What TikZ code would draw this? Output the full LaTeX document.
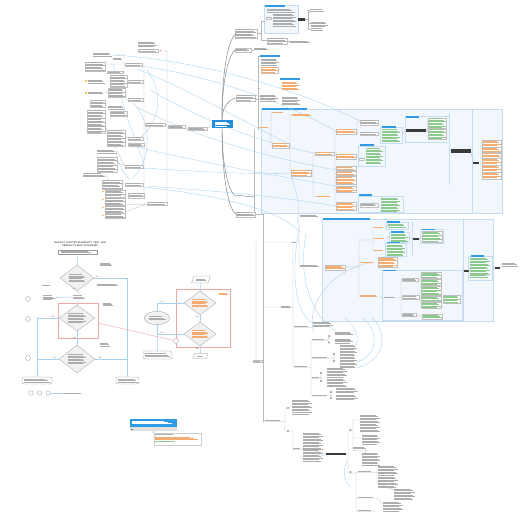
\documentclass[tikz,border=0pt]{standalone}
\usetikzlibrary{shapes.geometric,arrows.meta}
\definecolor{tg}{HTML}{ADADAD}
\definecolor{tor}{HTML}{F5AC70}
\definecolor{tgr}{HTML}{8CC98C}
\definecolor{hb}{HTML}{2E9BE3}
\definecolor{rootb}{HTML}{1F8FDB}
\definecolor{pf}{HTML}{F2F7FD}
\definecolor{pb}{HTML}{C6DCF1}
\definecolor{lg}{HTML}{B8B8B8}
\definecolor{lb}{HTML}{A6D2F0}
\definecolor{dk}{HTML}{3A3A3A}
\definecolor{rd}{HTML}{F2A7A7}
\definecolor{dg}{HTML}{F1F1F1}
\definecolor{ylw}{HTML}{F2C94C}
\newcommand\tb[5]{\foreach \tbi in {1,...,#4}{\pgfmathsetmacro\tbw{(#3)*(1-0.09*mod(\tbi*5,3))}\fill[#5] ({#1},{#2+(\tbi-1)*1.45}) rectangle ++(\tbw,0.45);}}
\newcommand\tbx[5]{\draw[draw=black!25,fill=white,line width=0.25] ({#1-0.8},{#2-0.8}) rectangle ({#1+#3+0.8},{#2+(#4-1)*1.45+1.3});\tb{#1}{#2}{#3}{#4}{#5}}
\newcommand\tbc[5]{\tb{#1-(#3)/2}{#2-(#4-1)*0.725-0.25}{#3}{#4}{#5}}
\begin{document}
\begin{tikzpicture}[x=1pt,y=-1pt,
 conn/.style={draw=lg,line width=0.3},
 link/.style={draw=lb,line width=0.35},
 spine/.style={draw=black!50,line width=0.45},
 panel/.style={fill=pf,draw=pb,line width=0.4},
 fl/.style={draw=lb,line width=0.5,-{Stealth[length=1.4pt,width=1.4pt]}},
 fdiam/.style={diamond,draw=black!35,fill=dg,line width=0.3,minimum width=34pt,minimum height=26pt,inner sep=0pt,aspect=1.3},
 fbox/.style={draw=black!40,fill=white,line width=0.3,inner sep=0pt},
 fround/.style={fbox,rounded corners=2pt},
 fcirc/.style={circle,draw=black!40,fill=white,line width=0.3,minimum size=5pt,inner sep=0pt},
 redbox/.style={draw=rd,line width=0.5,inner sep=0pt},
 lab/.style={font=\fontsize{1.6}{1.8}\selectfont\sffamily,text=black!70,inner sep=0.3pt},
 ico/.style={circle,draw=black!45,fill=white,line width=0.25,minimum size=1.8pt,inner sep=0pt}]
\useasboundingbox (0,0) rectangle (526,526);
\fill[white] (0,0) rectangle (526,526);
% ---------------- panels
\draw[panel] (264,5) rectangle (298,33);
\draw[panel] (261,109) rectangle (502,213);
\draw[panel] (405,116) rectangle (449,142);
\draw[panel] (380,127) rectangle (402,143);
\draw[panel] (358,146) rectangle (385,166);
\draw[panel] (358,196) rectangle (403,212.5);
\draw[pb,line width=0.4] (449,113)--(449,185) (472,109)--(472,213);
\draw[panel] (322,219) rectangle (493,321);
\draw[panel] (382,270) rectangle (462,320);
\draw[panel] (468,256) rectangle (492,280);
\draw[panel] (386,222) rectangle (408,229);
\draw[panel] (389,232) rectangle (409,242.5);
\draw[panel] (385,243.5) rectangle (406,256.5);
\draw[panel] (420,229) rectangle (443,243);
\draw[pb,line width=0.4] (412,222)--(412,256) (463,219)--(463,321);
% headers
\foreach \a/\b/\c/\d in {265/5.5/285/7.3, 260/55/280/57, 280/78/300/80, 262/107.8/307/109.6, 406/116.5/419/118.2, 382/126.5/396/128.2, 360/144.5/374/146.2, 359/194.5/372/196.2, 323/218.4/370/220.2, 387/221.2/400/222.8, 391/231.2/404/232.8, 387/241.8/400/243.4, 422/228.5/435/230.2, 383/269.6/396/271.3, 471/254.8/484/256.5}
  \fill[hb] (\a,\b) rectangle (\c,\d);
% dark boxes
\foreach \a/\b/\c/\d in {298/18/305/21, 406/129/426/132, 451/149/471/153, 473/162/479/164.3, 413/238/419/240.3, 464/270/468.5/272.3, 495/266.5/500/268.8, 326/452.5/346/454.5}
  \fill[dk] (\a,\b) rectangle (\c,\d);
% ---------------- tree lines
\draw[conn] (257,33.5)--(261,33.5) (261,21)--(261,40) (261,21)--(265,21) (261,40)--(266.7,40)
 (288,41)--(290,41) (305,19.5)--(308,19.5) (308,10)--(308,29) (308,10)--(310,10) (308,23)--(311,23) (308,29)--(311,29)
 (251,50)--(253.5,50) (256,99)--(258,99) (258,56)--(258,130) (258,56)--(260,56) (258,88)--(260,88) (258,128)--(259,128)
 (254,130)--(254,212) (244,196)--(254,196) (256.3,214.5)--(263,214.5) (263,214.5)--(263,421.5);
\draw[conn] (270,128)--(271,128) (271,112.5)--(271,145) (271,112.5)--(272,112.5) (271,145)--(271.7,145)
 (289,145)--(290,145) (290,114.5)--(290,173) (290,114.5)--(291.5,114.5) (290,173)--(290.7,173)
 (311,173)--(313,173) (313,154)--(313,196.5) (313,154)--(314.7,154) (313,196.5)--(315.5,196.5)
 (334,155)--(335,155) (335,131)--(335,205.5) \foreach \yy in {131,156,168.5,173.5,180,189,206} {(335,\yy)--(335.7,\yy)}
 (356,132)--(357,132) (357,122)--(357,134) (357,122)--(359.7,122) (357,134)--(359.7,134)
 (378,134)--(380,134) (402,134)--(405,131) (426,130.5)--(427.5,130.5) (427.5,121)--(427.5,133)
 (449,151)--(451,151) (471,151)--(473,163) (479,163)--(481,163) (481,142)--(481,176)
 (356,156)--(358,156) (356,205)--(358,205);
\draw[conn] (263,242)--(299,242) (299,216)--(299,267) (299,216)--(300,216) (299,267)--(300,267)
 (322,267)--(324.7,267) (345,267)--(359,267) (359,240)--(359,297) (359,240)--(373,240) (373,227.5)--(373,251)
 (373,227.5)--(374,227.5) (373,251)--(374,251) (359,262.5)--(360,262.5) (359,297)--(360,297)
 (377,262.5)--(377.7,262.5) (385,227.5)--(388,225) (386,238.5)--(391,236) (385,250.5)--(387,248)
 (408,237)--(413,239) (419,239)--(421.7,236)
 (379,297)--(383,297.5) (398,297.5)--(401,297.5) (401,279.5)--(401,315) (401,279.5)--(401.7,279.5) (401,315)--(401.7,315)
 (418,280)--(420,280) (420,274)--(420,304) (419,297)--(420,297) (435,299)--(442.7,299) (416,315)--(421.7,316)
 (462,271)--(464,271) (468.5,271)--(470,268) (492,267.5)--(495,267.5) (500,267.5)--(502,265);
\draw[conn] (256,242)--(256,360) (263,307)--(281,307) (292,307)--(293,307) (293,242)--(293,367.5)
 (294,327.5)--(312,327.5) (294,367.5)--(311,367.5) (311,340.5)--(311,396)
 (311,340.5)--(327,340.5) (311,358.5)--(330,358.5) (311,378.5)--(320,378.5) (311,396)--(330,396)
 (327,340.5)--(329,338) (329,336)--(329,342.5) (330,358.5)--(334,357.5) (334,354)--(334,361)
 (320,378.5)--(321,377) (321,373)--(321,381) (330,396)--(331,395) (331,392)--(331,398)
 (263,421.5)--(283,421.5) (283,421.5)--(285,421.5) (285,408)--(285,431) (285,408)--(288,408) (285,431)--(288,431)
 (289,408)--(292,405) (289,431)--(293,431) (293,431)--(293,449.5) (293,449.5)--(302,449.5) (302,449.5)--(303,447)
 (323,453.5)--(326,453.5) (346,453.5)--(348,453.5) (348,430)--(348,473)
 (348,430)--(353,430) (353,420)--(353,450.5) (353,420)--(360,420) (353,438)--(362,438) (353,450.5)--(367,450.5) (367,450.5)--(362,456)
 (348,473)--(356,473) (356,473)--(356,511.5) (356,472.5)--(375,472.5) (377,468)--(377,482) (375,472.5)--(377,472.5)
 (356,498)--(377,498) (377,498)--(382,504) (356,511.5)--(375,511.5) (377,482)--(393,490);
% left cluster lines
\draw[conn] (207.3,129)--(212,125) (185,127.5)--(187.7,128.5) (167,50)--(167,204) (167,127)--(167.7,127)
 (158,51)--(167,51) (165,124.5)--(167,124.5) (167,204)--(166.7,204)
 (144,65)--(144,195) (144,124.5)--(144.7,124.5)
 \foreach \yy in {65,82,100,139,145,167,185,195} {(142.5,\yy)--(144,\yy)}
 (124,55)--(124,72) (124,65)--(124.7,65) (112,55)--(124,55) (106,64)--(124,64) (122.3,72)--(124,72)
 (127.3,81)--(127.7,81) (105,81)--(109.7,81) (105,92.7)--(109,92.7) (125.3,99.5)--(127.7,99.5) (105,102)--(107.7,102)
 (104.6,120)--(106.7,131) (124.6,135)--(127.7,138) (117,151)--(124.7,166) (116.6,162)--(124.7,166)
 (105,174)--(109,181) (121.6,184)--(124.7,184) (124.6,195)--(127.7,195) (124.6,205)--(146.7,204) (124.6,212)--(146.7,204);
% ---------------- links
\draw[link] (113,55) .. controls (200,60) and (300,90) .. (360,121);
\draw[link] (125,64) .. controls (200,72) and (280,100) .. (336,131);
\draw[link] (137,69) .. controls (190,90) and (250,125) .. (291,145);
\draw[link] (150,90) .. controls (210,125) and (280,150) .. (336,156);
\draw[link] (137,107) .. controls (200,140) and (280,160) .. (336,170);
\draw[link] (128,145) .. controls (190,160) and (270,175) .. (336,186);
\draw[link] (125,167) .. controls (180,170) and (240,175) .. (291,173);
\draw[link] (147,186) .. controls (200,190) and (270,195) .. (336,206);
\draw[link] (143,187) .. controls (220,195) and (280,210) .. (300,232);
\draw[link] (113,64) .. controls (120,100) and (135,140) .. (144,164);
\draw[link] (147,70) .. controls (165,95) and (160,125) .. (136,141);
\draw[link] (133,103) .. controls (152,120) and (152,160) .. (133,178);
\draw[link] (120,130) .. controls (110,150) and (120,170) .. (130,180);
\draw[link] (291,177) .. controls (298,195) and (300,205) .. (297,224);
\draw[link] (300,225) .. controls (290,270) and (295,315) .. (313,323);
\draw[link] (306,234) .. controls (296,285) and (318,322) .. (336,331);
\draw[link] (368,263) .. controls (330,272) and (305,305) .. (314,333);
\draw[link] (362,318) .. controls (380,330) and (378,355) .. (357,362);
\draw[link] (372,318) .. controls (388,332) and (386,360) .. (357,368);
\draw[link] (345,318) .. controls (360,330) and (360,345) .. (352,350);
\draw[link] (319,441) .. controls (313,447) and (315,456) .. (326,456);
\draw[link] (347,460) .. controls (343,470) and (343,480) .. (350,487);
% ---------------- texts: top right
\tbx{236}{29.5}{20}{6}{tg}
\tb{267}{9}{28}{3}{tg}
\tbx{266.5}{17.5}{4}{1}{tg}
\tb{273}{14}{23}{9}{tg}
\tbx{267.5}{38.5}{19}{4}{tg}
\tb{290}{41}{22}{2}{tg}
\tb{310}{9.5}{15}{2}{tg}
\fill[red!60] (309.2,12.5) circle (0.5);
\tb{311}{22}{17}{4}{tg}
\tb{311}{28.5}{13}{2}{tg}
\tbx{236}{49}{14}{2}{tg}
\tb{254}{48}{15}{2}{tg}
\tb{261}{59}{18}{5}{tg}
\tbx{261.5}{67.5}{16}{4}{tor}
\tb{282}{82}{17}{6}{tor}
\tbx{236.5}{95.5}{18}{4}{tg}
\tb{260}{95}{18}{5}{tg}
\tb{282}{97}{18}{6}{tg}
\tb{236}{195.3}{8}{1}{tg}
\tbx{236.5}{212.5}{18}{3}{tg}
% panel B
\tb{259}{127.5}{11}{1}{tor}
\tb{272}{111.8}{13}{1}{tor}
\tbx{272.5}{143.5}{16}{3}{tor}
\tb{291.5}{114}{21}{2}{tor}
\tbx{291.5}{170.5}{19}{4}{tor}
\tbx{315.5}{152.5}{18}{2}{tor}
\tb{315.5}{196}{18}{1}{tor}
\tbx{336.5}{129.5}{19}{3}{tor}
\tbx{336.5}{154.5}{19}{3}{tor}
\tbx{336.5}{167.3}{19}{2}{tor}
\tbx{336.5}{172.3}{19}{2}{tor}
\tbx{336.5}{177.3}{19}{5}{tor}
\tbx{336.5}{186.7}{19}{4}{tor}
\tbx{336.5}{203}{19}{5}{tor}
\tbx{360.5}{120.5}{17}{3}{tg}
\tbx{360.5}{132.5}{17}{2}{tg}
\tb{382}{129.5}{18}{9}{tgr}
\tbx{428.5}{118.5}{17}{7}{tgr}
\tbx{428.5}{129.5}{17}{7}{tgr}
\tb{366}{148.5}{17}{11}{tgr}
\tbx{359.5}{158.5}{4}{1}{tg}
\tb{381}{198}{19}{10}{tgr}
\tbx{361}{204}{16}{2}{tg}
\tbx{482.5}{141}{18}{4}{tor}
\tbx{482.5}{148}{18}{3}{tor}
\tbx{482.5}{153.5}{18}{3}{tor}
\tbx{482.5}{159}{18}{4}{tor}
\tbx{482.5}{166}{18}{4}{tor}
\tbx{482.5}{173}{18}{4}{tor}
% panel C
\tb{300}{214.8}{20}{2}{tg}
\tb{300}{265}{21}{2}{tg}
\tb{292}{241.5}{5}{1}{tg}
\tbx{325.5}{265.5}{19}{3}{tor}
\tb{374}{227}{11}{1}{tor}
\tb{374}{237.8}{12}{1}{tor}
\tb{374}{249.8}{11}{1}{tor}
\tb{360}{261.8}{17}{1}{tor}
\tbx{378.5}{257.5}{18}{7}{tor}
\tb{360}{295}{19}{2}{tor}
\tb{388}{223.8}{18}{3}{tgr}
\tb{391}{234}{17}{6}{tgr}
\tb{387}{244.8}{18}{8}{tgr}
\tbx{422.5}{231.8}{19}{7}{tgr}
\tbx{402.5}{278.5}{15}{2}{tg}
\tbx{402.5}{296.3}{16}{2}{tg}
\tbx{402.5}{313.5}{13}{2}{tg}
\tb{383.5}{297}{14}{1}{tg}
\tbx{421.5}{272.5}{19}{4}{tgr}
\tbx{421.5}{279.6}{19}{4}{tgr}
\tbx{421.5}{286.7}{19}{6}{tgr}
\tbx{421.5}{296.7}{19}{3}{tgr}
\tbx{421.5}{302.7}{19}{4}{tgr}
\tbx{443.5}{296}{16}{5}{tgr}
\tbx{422.5}{314.5}{19}{3}{tgr}
\tb{470}{258}{20}{14}{tgr}
\tb{502}{263}{16}{3}{tg}
% lower tree
\tbx{254}{360.8}{7}{1}{tg}
\tb{281}{305.8}{11}{2}{tg}
\tb{294}{325.5}{17}{1}{tg}
\tb{313}{321.8}{20}{4}{tg}
\tb{294}{365.5}{16}{1}{tg}
\tb{312}{339}{15}{1}{tg}
\tb{312}{357}{18}{1}{tg}
\tb{312}{377}{8}{1}{tg}
\tb{312}{394.5}{18}{1}{tg}
\tb{335}{331.5}{18}{3}{tg}
\tb{335}{338.5}{18}{4}{tg}
\tb{340}{345}{17}{8}{tg}
\tb{340}{357}{17}{8}{tg}
\tb{327}{368}{20}{7}{tg}
\tb{327}{379}{20}{6}{tg}
\tb{336}{388}{22}{4}{tg}
\tb{336}{395}{22}{4}{tg}
\tb{265}{419.5}{18}{1}{tg}
\tb{292}{400}{20}{9}{tg}
\tb{292}{413.5}{21}{1}{tg}
\tb{303}{433}{20}{20}{tg}
\tb{293}{447.8}{9}{1}{tg}
\tb{360}{415}{20}{12}{tg}
\tb{362}{435}{18}{7}{tg}
\tb{353}{447}{14}{2}{tg}
\tb{362}{453}{18}{9}{tg}
\tb{358}{471}{16}{1}{tg}
\tb{378}{466}{20}{7}{tg}
\tb{378}{477}{20}{8}{tg}
\tb{394}{489}{21}{8}{tg}
\tb{358}{496.5}{18}{1}{tg}
\tb{383}{502}{20}{7}{tg}
\tb{358}{510}{16}{1}{tg}
\foreach \p in {(329,336),(329,342.5),(334,354),(334,361),(321,373),(321,381),(331,392),(331,398),(288,408),(288,431),(350.5,430),(350.5,472)}
  \node[ico] at \p {};
% left cluster
\tbx{168.5}{125.7}{16}{2}{tg}
\tbx{188.5}{127.7}{18}{2}{tg}
\tb{138}{42}{19}{4}{tg}
\tbx{138.5}{49.5}{19}{2}{tg}
\fill[red!60] (159.8,50) rectangle ++(1,1);
\tbx{145.5}{123.5}{19}{2}{tg}
\tbx{147.5}{202.5}{19}{2}{tg}
\tbx{125.5}{63.5}{16}{2}{tg}
\tbx{128.5}{80.5}{14}{2}{tg}
\tbx{128.5}{98.5}{14}{2}{tg}
\tbx{128.5}{137.5}{14}{2}{tg}
\tbx{128.5}{143.8}{15}{2}{tg}
\tbx{125.5}{165.5}{17}{2}{tg}
\tbx{125.5}{183.5}{17}{2}{tg}
\tbx{128.5}{193.5}{15}{3}{tg}
\tb{93}{53}{19}{3}{tg}
\tbx{85.5}{62.5}{19}{6}{tg}
\tb{113}{58}{10}{2}{tg}
\tbx{107.5}{71.8}{15}{1}{tg}
\tbx{110.5}{75.5}{16}{8}{tg}
\tb{88}{80}{17}{3}{tg}
\tb{88}{92}{17}{2}{tg}
\tbx{108.5}{88.8}{16}{6}{tg}
\tbx{90.5}{100.5}{14}{5}{tg}
\tb{108}{106}{17}{3}{tg}
\tbx{110.5}{112}{16}{3}{tg}
\tbx{87.5}{110.5}{17}{16}{tg}
\tbx{107.5}{130.5}{17}{11}{tg}
\tb{97}{150}{20}{3}{tg}
\tbx{97.5}{157.5}{19}{10}{tg}
\tb{83}{173.5}{22}{3}{tg}
\tbx{102.5}{180.5}{19}{6}{tg}
\tbx{105.5}{191}{19}{4}{tg}
\tbx{105.5}{198.5}{19}{5}{tg}
\tbx{105.5}{206.5}{19}{5}{tg}
\tbx{105.5}{214.4}{19}{3}{tg}
\foreach \p in {(85.2,80.2),(85.2,92.2),(102.3,191),(102.3,198.8),(102.3,206.8),(102.3,214.6)}
  \fill[ylw] \p rectangle ++(1.4,1.4);
% ---------------- spine and root
\node[fill=rootb,minimum width=21pt,minimum height=8.5pt,inner sep=0pt] (root) at (222.5,124) {};
\tbc{222.5}{124}{15}{4}{white}
\draw[spine] (222,120) .. controls (222,80) and (226,42) .. (236,33.5);
\draw[spine] (222,120) .. controls (222,85) and (227,57) .. (235.2,50);
\draw[spine] (222,120) .. controls (222,108) and (228,100) .. (235.7,98);
\draw[spine] (222,128) .. controls (222,160) and (227,190) .. (235.5,196);
\draw[spine] (222,128) .. controls (222,175) and (228,208) .. (235.7,214);
% ---------------- flowchart
\node[font=\fontsize{2.4}{3}\selectfont\sffamily\bfseries,align=center,text=black!75,inner sep=0pt] (ftitle) at (80,243.8) {SUBJECT MATTER ELIGIBILITY TEST FOR\\PRODUCTS AND PROCESSES};
\node[fbox,minimum width=39pt,minimum height=4.6pt] (fstart) at (77.5,252) {};
\tbc{77.5}{252}{34}{2}{tg}
\node[fdiam] (d1) at (77,278) {};
\tbc{77}{278}{16}{6}{tg}
\node[inner sep=0pt,fill=white,minimum width=13pt,minimum height=6pt] (fn1) at (78.5,297) {};
\tbc{78.5}{297}{12}{3}{tg}
\node[inner sep=0pt,minimum width=13pt,minimum height=8pt] (fl1) at (48.5,297.5) {};
\tbc{48.5}{297.5}{12}{4}{tg}
\node[redbox,minimum width=40pt,minimum height=35pt] (rr1) at (78,320.5) {};
\node[fdiam,minimum width=36pt] (d2) at (77,318) {};
\tbc{77}{318}{18}{7}{tg}
\node[fdiam,minimum width=36pt,minimum height=28pt] (d3) at (77,359) {};
\tbc{77}{359}{18}{7}{tg}
\node[fround,minimum width=30pt,minimum height=7pt] (fe1) at (37,380.5) {};
\tbc{37}{380.5}{26}{3}{tg}
\node[fround,minimum width=23pt,minimum height=7pt] (fe2) at (127.5,380.5) {};
\tbc{127.5}{380.5}{20}{3}{tg}
\node[fcirc] (c1) at (28,299) {};
\node[fcirc] (c2) at (28,319) {};
\node[fcirc] (c3) at (28,358) {};
\node[fcirc,minimum size=4.5pt] (cl1) at (31,393) {};
\node[fcirc,minimum size=4.5pt] (cl2) at (39.5,393) {};
\node[fcirc,minimum size=4.5pt] (cl3) at (48,393) {};
\node[inner sep=0pt,minimum width=22pt,minimum height=1.5pt,anchor=west] (legtxt) at (63,393) {};
\tb{63}{392.5}{22}{1}{tg}
\tb{100}{262.5}{12}{3}{tg}
\tb{97}{284}{23}{2}{tg}
\tb{42}{285}{10}{1}{tg}
\tb{103}{302.5}{10}{3}{tg}
\tb{100}{343}{10}{3}{tg}
\draw[fl] (fstart) -- (d1);
\draw[fl] (d1) -- (fn1);
\draw[fl] (fn1) -- (fl1);
\draw[fl] (fn1) -- (d2);
\draw[fl] (d2) -- (d3);
\draw[fl] (d1.east) -| (fe2.north);
\draw[fl] (d2.west) -| (fe1.north);
\draw[draw=lb,line width=0.5] (d3.west) -- (d3.west -| fe1);
\draw[draw=lb,line width=0.5] (d3.east) -- (d3.east -| fe2);
\draw[draw=lb,line width=0.5] (cl3) -- (legtxt);
\node[lab,anchor=south] at (96.5,277.8) {NO};
\node[lab,anchor=east] at (76.2,288.5) {YES};
\node[lab,anchor=south] at (53,317.8) {YES};
\node[lab,anchor=east] at (76.2,338.3) {NO};
\node[lab,anchor=south] at (55,358.8) {YES};
\node[lab,anchor=south] at (100,358.8) {NO};
% right flowchart
\node[inner sep=0pt,minimum width=16pt,minimum height=6.5pt] (p1) at (201,279.5) {};
\draw[draw=black!40,fill=white,line width=0.3] ([xshift=1.2pt]p1.north west) -- ([xshift=1.2pt]p1.north east) -- ([xshift=-1.2pt]p1.south east) -- ([xshift=-1.2pt]p1.south west) -- cycle;
\tbc{201}{279.5}{11}{2}{tg}
\node[redbox,minimum width=54pt,minimum height=58pt] (rr2) at (203,318) {};
\tb{219}{293}{10}{2}{tor}
\node[fdiam,minimum width=32pt,minimum height=24pt] (d4) at (200,303) {};
\tbc{200}{303}{16}{6}{tor}
\node[fdiam,minimum width=32pt,minimum height=24pt] (d5) at (200,334) {};
\tbc{200}{334}{16}{6}{tor}
\node[ellipse,draw=black!40,fill=dg,line width=0.3,minimum width=25.4pt,minimum height=13.4pt,inner sep=0pt] (fel) at (157,318) {};
\tbc{157}{318}{17}{3}{tg}
\node[fround,minimum width=29pt,minimum height=8pt] (feb) at (157.5,355) {};
\tbc{157.5}{355}{25}{3}{tg}
\node[inner sep=0pt,minimum width=13pt,minimum height=4.5pt] (p2) at (200.5,356) {};
\draw[draw=black!40,fill=white,line width=0.3] ([xshift=0.9pt]p2.north west) -- ([xshift=0.9pt]p2.north east) -- ([xshift=-0.9pt]p2.south east) -- ([xshift=-0.9pt]p2.south west) -- cycle;
\tbc{200.5}{356}{8}{1}{tg}
\node[fcirc] (c4) at (176,341) {};
\coordinate (r1) at (98,323);
\draw[rd,line width=0.45] (r1) -- (c4);
\draw[fl] (p1) -- (d4);
\draw[fl] (d4.west) -| (fel.north);
\draw[fl] (d4) -- (d5);
\draw[fl] (d5.west) -| (fel.south);
\draw[fl] (d5) -- (p2);
\draw[fl] (fel.south) -- (feb.north);
\node[lab,anchor=south] at (162,302.8) {YES};
\node[lab,anchor=east] at (199.2,316.5) {NO};
\node[lab,anchor=south] at (162,333.8) {YES};
\node[lab,anchor=east] at (199.2,348.5) {NO};
% ---------------- note
\node[fill=hb,minimum width=47pt,minimum height=8pt,inner sep=0pt,anchor=north west] (note) at (130,419) {};
\tb{131.5}{420.5}{40}{3}{white}
\node[fill=black!12,minimum width=47pt,minimum height=4pt,inner sep=0pt,anchor=north west] (notebar) at (130,427) {};
\tb{131}{428.7}{3}{1}{black!55}
\node[draw=black!20,fill=white,line width=0.3,minimum width=47pt,minimum height=12pt,inner sep=0pt,anchor=north west] (notetxt) at (153.5,432.5) {};
\draw[conn] (notebar.south -| notetxt.west) -- (notetxt.north west);
\tb{155}{433.8}{22}{1}{tg}
\tb{155}{436.5}{43}{3}{tor}
\tb{155}{441.3}{24}{1}{tgr}
\end{tikzpicture}
\end{document}
